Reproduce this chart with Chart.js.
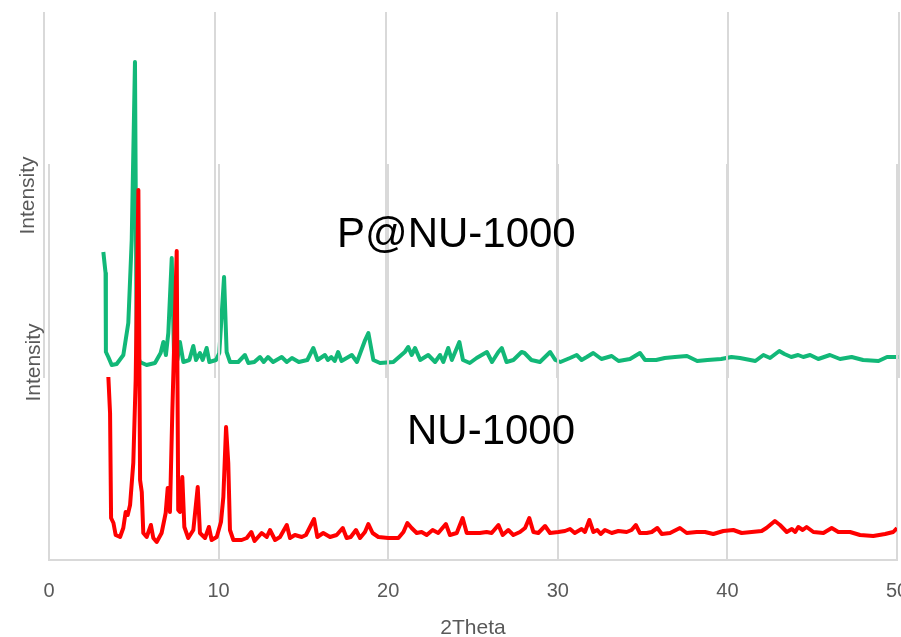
<!DOCTYPE html>
<html>
<head>
<meta charset="utf-8">
<script src="https://cdn.jsdelivr.net/npm/chart.js@4/dist/chart.umd.min.js"></script>
<style>
  html, body { margin: 0; padding: 0; background: #fff; }
  #wrap { position: relative; width: 901px; height: 637px; overflow: hidden; font-family: 'Liberation Sans', Arial, sans-serif; }
  #wrap canvas { position: absolute; left: 0; top: 0; }
  .lbl { position: absolute; color: #000; font-size: 42px; line-height: 42px; white-space: nowrap; }
  .ytitle { position: absolute; width: 120px; height: 21px; line-height: 21px; font-size: 21px; color: #595959; text-align: center; transform: rotate(-90deg); }
</style>
</head>
<body>
<div id="wrap">
  <canvas id="pnuChart" width="940" height="637"></canvas>
  <canvas id="nuChart" width="940" height="637"></canvas>
  <div class="ytitle" style="left:-33.7px; top:184.5px;">Intensity</div>
  <div class="ytitle" style="left:-28.3px; top:351.5px;">Intensity</div>
  <div class="lbl" style="left:337px; top:212px;">P@NU-1000</div>
  <div class="lbl" style="left:407px; top:409px;">NU-1000</div>
</div>
<script>
// x tick labels
var xTicks = [0, 10, 20, 30, 40, 50];

// NU-1000 (red), 2theta and intensity (arb. units)
var nuX = [3.5, 3.6, 3.66, 3.8, 3.93, 4.19, 4.38, 4.52, 4.64, 4.78, 4.97, 5.11, 5.27, 5.37, 5.47, 5.56, 5.76, 6.01, 6.15, 6.35,
  6.64, 6.88, 7.0, 7.13, 7.27, 7.53, 7.62, 7.72, 7.86, 7.98, 8.21, 8.51, 8.77, 8.9, 9.2, 9.43, 9.59, 9.89, 10.14, 10.28,
  10.44, 10.57, 10.67, 10.87, 11.36, 11.66, 11.93, 12.12, 12.54, 12.84, 13.03, 13.33, 13.62, 14.02, 14.21, 14.5, 14.9, 15.15, 15.63, 15.82,
  16.17, 16.57, 16.96, 17.32, 17.55, 17.79, 18.1, 18.34, 18.63, 18.83, 19.08, 19.42, 20.0, 20.6, 20.9, 21.13, 21.38, 21.68, 21.97, 22.27,
  22.62, 22.95, 23.4, 23.64, 24.04, 24.39, 24.63, 25.0, 25.4, 25.8, 26.1, 26.5, 26.75, 27.08, 27.38, 27.77, 28.07, 28.32, 28.56, 28.85,
  29.25, 29.54, 30.03, 30.42, 30.72, 31.0, 31.4, 31.6, 31.86, 32.1, 32.33, 32.53, 32.78, 33.18, 33.57, 34.06, 34.35, 34.6, 34.84, 35.24,
  35.54, 35.87, 36.13, 36.62, 37.2, 37.6, 38.19, 38.68, 39.17, 39.76, 40.35, 40.84, 41.43, 42.02, 42.3, 42.8, 43.1, 43.5, 43.8, 44.0,
  44.18, 44.44, 44.67, 45.07, 45.66, 46.15, 46.54, 47.23, 47.82, 48.6, 49.3, 49.78, 50.0];
var nuY = [183, 147, 42, 37, 25, 23, 32, 48, 45, 55, 97, 180, 370, 80, 68, 27, 23, 35, 22, 18,
  27, 47, 72, 48, 147, 309, 50, 48, 83, 33, 22, 30, 73, 27, 22, 33, 20, 23, 38, 63,
  133, 97, 30, 20, 20, 22, 28, 19, 27, 23, 30, 20, 23, 35, 22, 25, 23, 25, 41, 23,
  27, 23, 25, 32, 22, 23, 30, 22, 28, 36, 27, 23, 22, 22, 28, 37, 32, 27, 28, 25,
  30, 27, 36, 25, 27, 42, 27, 27, 27, 28, 27, 35, 25, 30, 25, 28, 32, 42, 28, 27,
  34, 27, 28, 29, 31, 27, 31, 28, 40, 28, 30, 26, 30, 27, 29, 28, 30, 35, 27, 27,
  28, 32, 26, 27, 32, 27, 28, 28, 26, 29, 30, 27, 28, 29, 32, 39, 35, 28, 31, 28,
  33, 30, 33, 28, 27, 32, 28, 28, 25, 24, 26, 28, 32];

// P@NU-1000 (green)
var pnuX = [3.47, 3.6, 3.62, 3.76, 3.96, 4.25, 4.64, 4.93, 5.13, 5.32, 5.42, 5.61, 6.0, 6.49, 6.82, 6.98, 7.13, 7.27, 7.47, 7.6,
  7.8, 7.95, 8.15, 8.5, 8.73, 8.89, 9.12, 9.28, 9.51, 9.67, 10.06, 10.25, 10.53, 10.68, 10.88, 11.36, 11.75, 11.95, 12.3, 12.63,
  12.85, 13.1, 13.4, 13.9, 14.2, 14.5, 14.9, 15.4, 15.75, 16.0, 16.43, 16.6, 16.8, 17.0, 17.2, 17.4, 18.0, 18.3, 18.78, 18.97,
  19.26, 19.65, 20.43, 21.1, 21.3, 21.5, 21.7, 22.0, 22.47, 22.87, 23.16, 23.35, 23.64, 23.85, 24.29, 24.5, 24.9, 25.3, 25.9, 26.2,
  26.57, 26.77, 27.05, 27.45, 27.93, 28.1, 28.5, 29.0, 29.6, 29.9, 30.2, 30.76, 31.15, 31.44, 31.74, 32.12, 32.6, 33.2, 33.6, 34.27,
  34.85, 35.15, 35.8, 36.3, 36.9, 37.6, 38.2, 38.8, 39.6, 40.2, 40.7, 41.6, 42.07, 42.46, 43.0, 43.3, 43.7, 44.1, 44.4, 44.8,
  45.28, 45.96, 46.55, 47.23, 47.9, 48.8, 49.3, 49.96];
var pnuY = [126, 105, 26, 21, 13, 14, 23, 55, 138, 316, 25, 16, 13, 15, 25, 36, 23, 45, 120, 26,
  18, 36, 16, 18, 32, 18, 25, 18, 30, 16, 18, 25, 101, 26, 16, 16, 23, 15, 16, 21,
  16, 21, 16, 21, 16, 20, 16, 18, 30, 18, 23, 18, 21, 17, 26, 17, 23, 16, 38, 45,
  18, 15, 16, 26, 31, 23, 30, 18, 23, 16, 23, 16, 30, 18, 36, 18, 15, 20, 26, 16,
  26, 30, 16, 18, 26, 25, 18, 16, 26, 18, 16, 20, 23, 18, 21, 25, 19, 22, 17, 19,
  25, 18, 18, 20, 21, 22, 17, 18, 19, 21, 20, 17, 23, 20, 27, 24, 21, 23, 21, 23,
  19, 23, 19, 21, 18, 17, 21, 21];

function toPoints(xs, ys) {
  return xs.map(function (x, i) { return { x: x, y: ys[i] }; });
}

var gridColor = '#d9d9d9';
var tickColor = '#595959';

// green chart behind (no axis labels shown)
new Chart(document.getElementById('pnuChart'), {
  type: 'scatter',
  data: {
    datasets: [{
      label: 'P@NU-1000',
      data: toPoints(pnuX, pnuY),
      showLine: true,
      borderColor: '#12b878',
      borderWidth: 4,
      pointRadius: 0,
      tension: 0,
      borderJoinStyle: 'round'
    }]
  },
  options: {
    responsive: false,
    animation: false,
    layout: { padding: { left: 44, right: 41, top: 12, bottom: 259 } },
    plugins: { legend: { display: false }, tooltip: { enabled: false } },
    scales: {
      x: {
        type: 'linear', min: 0, max: 50,
        afterBuildTicks: function (s) { s.ticks = xTicks.map(function (v) { return { value: v }; }); },
        ticks: { display: false },
        grid: { color: gridColor, lineWidth: 2, drawTicks: false },
        border: { display: false },
        afterFit: function (s) { s.height = 0; }
      },
      y: { display: false, min: 0, max: 366 }
    }
  }
});

// red chart on top, carries the x axis
new Chart(document.getElementById('nuChart'), {
  type: 'scatter',
  data: {
    datasets: [{
      label: 'NU-1000',
      data: toPoints(nuX, nuY),
      showLine: true,
      borderColor: '#ff0000',
      borderWidth: 4,
      pointRadius: 0,
      tension: 0,
      borderJoinStyle: 'round'
    }]
  },
  options: {
    responsive: false,
    animation: false,
    layout: { padding: { left: 49, right: 43, top: 164, bottom: 0 } },
    plugins: { legend: { display: false }, tooltip: { enabled: false } },
    scales: {
      x: {
        type: 'linear', min: 0, max: 50,
        afterBuildTicks: function (s) { s.ticks = xTicks.map(function (v) { return { value: v }; }); },
        ticks: { color: tickColor, padding: 19, font: { family: 'Liberation Sans', size: 20 } },
        grid: { color: gridColor, lineWidth: 2, drawTicks: false },
        border: { display: true, color: gridColor, width: 2 },
        title: {
          display: true, text: '2Theta', color: tickColor, padding: 0,
          font: { family: 'Liberation Sans', size: 21, lineHeight: 0.8 }
        },
        afterFit: function (s) { s.height = 77; }
      },
      y: { display: false, min: 0, max: 396 }
    }
  }
});
</script>
</body>
</html>
